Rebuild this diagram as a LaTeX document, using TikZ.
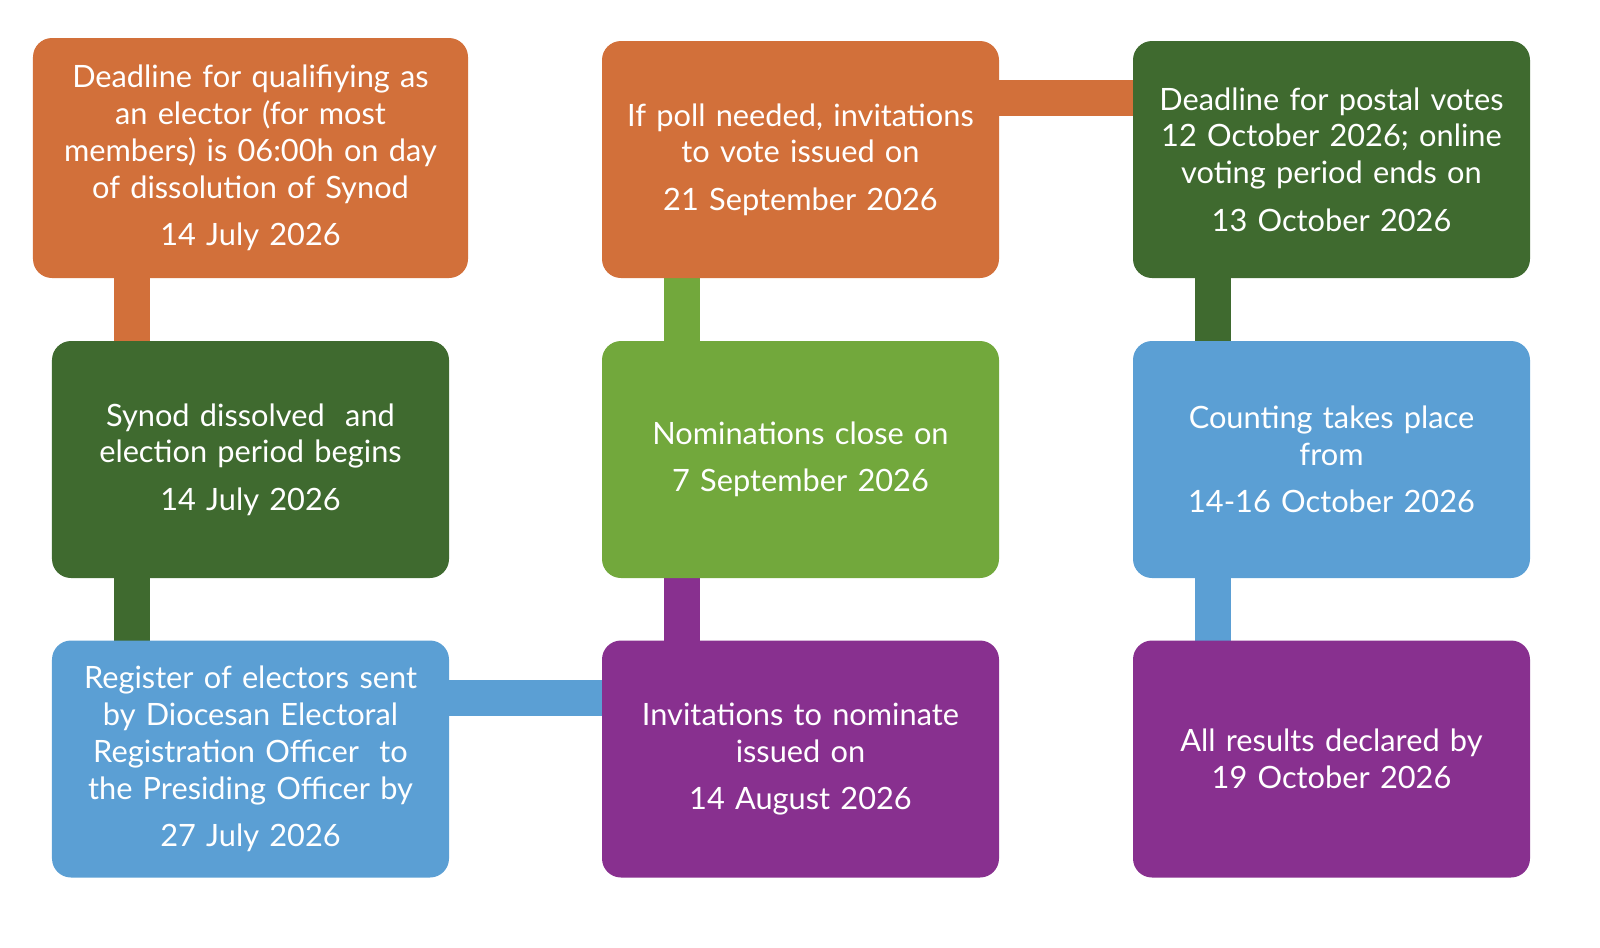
\documentclass[tikz,border=0pt]{standalone}
\usepackage{fontspec}
\setmainfont{Lato}
\usetikzlibrary{positioning}
\definecolor{orng}{HTML}{D2703A}
\definecolor{dgreen}{HTML}{3F6A2F}
\definecolor{lgreen}{HTML}{72A83C}
\definecolor{sky}{HTML}{5B9FD4}
\definecolor{purp}{HTML}{88308F}
\tikzset{
    stage/.style={rounded corners=0.38cm, minimum width=7.94cm, minimum height=4.74cm,
        text width=7.8cm, align=center, text=white, inner sep=0pt,
        font=\fontsize{17.5}{21}\selectfont}, % one box of the timeline
    link/.style={line width=0.72cm}, % thick bar between boxes
}
\begin{document}
\begin{tikzpicture}
\useasboundingbox (0,0) rectangle (32,-18.96);
% bars first, boxes are drawn over them
\coordinate (a1) at (5.01,-3.16);
\coordinate (a2) at (5.01,-9.19);
\coordinate (a3) at (5.01,-15.18);
\coordinate (b1) at (16.01,-3.19);
\coordinate (b2) at (16.01,-9.19);
\coordinate (b3) at (16.01,-15.18);
\coordinate (c1) at (26.63,-3.19);
\coordinate (c2) at (26.63,-9.19);
\coordinate (c3) at (26.63,-15.18);
\draw[link, orng] ([xshift=-2.37cm]a1) -- ([xshift=-2.37cm]a2);
\draw[link, dgreen] ([xshift=-2.37cm]a2) -- ([xshift=-2.37cm]a3);
\draw[link, sky] ([yshift=1.22cm]a3) -- ([yshift=1.22cm]b3);
\draw[link, purp] ([xshift=-2.37cm]b3) -- ([xshift=-2.37cm]b2);
\draw[link, lgreen] ([xshift=-2.37cm]b2) -- ([xshift=-2.37cm]b1);
\draw[link, orng] ([yshift=1.23cm]b1) -- ([yshift=1.23cm]c1);
\draw[link, dgreen] ([xshift=-2.37cm]c1) -- ([xshift=-2.37cm]c2);
\draw[link, sky] ([xshift=-2.37cm]c2) -- ([xshift=-2.37cm]c3);
% boxes
\node[stage, fill=orng, minimum width=8.7cm, minimum height=4.8cm, text width=8.6cm] (qualify) at (a1)
    {Deadline for qualifiying as\\ an elector (for most\\ members) is 06:00h on day\\ of dissolution of Synod\\[6pt] 14 July 2026};
\node[stage, fill=dgreen] (dissolve) at (a2) {Synod dissolved\ \ and\\ election period begins\\[6pt] 14 July 2026};
\node[stage, fill=sky] (register) at (a3)
    {Register of electors sent\\ by Diocesan Electoral\\ Registration Officer\ \ to\\ the Presiding Officer by\\[6pt] 27 July 2026};
\node[stage, fill=orng] (poll) at (b1) {If poll needed, invitations\\ to vote issued on\\[6pt] 21 September 2026};
\node[stage, fill=lgreen] (close) at (b2) {Nominations close on\\[6pt] 7 September 2026};
\node[stage, fill=purp] (nominate) at (b3) {Invitations to nominate\\ issued on\\[6pt] 14 August 2026};
\node[stage, fill=dgreen] (postal) at (c1)
    {Deadline for postal votes\\ 12 October 2026; online\\ voting period ends on\\[6pt] 13 October 2026};
\node[stage, fill=sky] (count) at (c2) {Counting takes place\\ from\\[6pt] 14-16 October 2026};
\node[stage, fill=purp] (results) at (c3) {All results declared by\\ 19 October 2026};
\end{tikzpicture}
\end{document}
